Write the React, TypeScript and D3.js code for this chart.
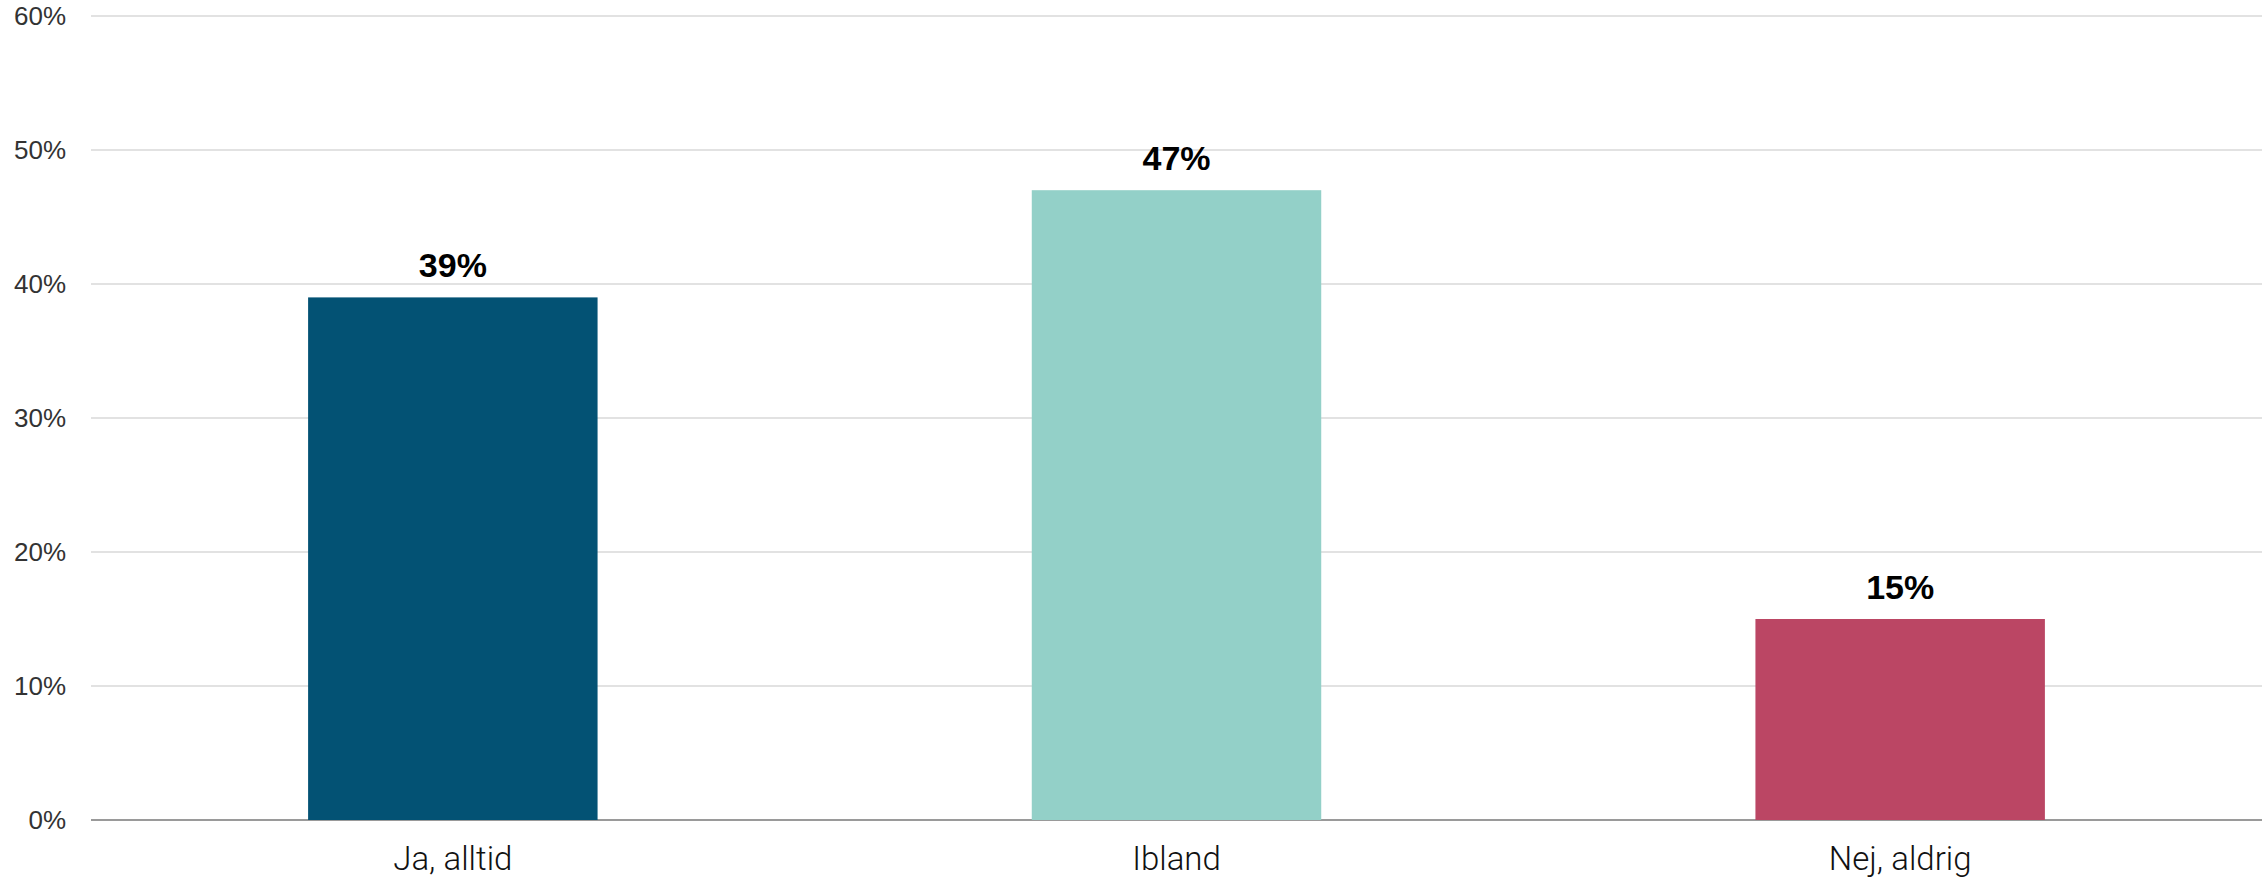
import React from "react";
import * as d3 from "d3";

const categories = ["Ja, alltid", "Ibland", "Nej, aldrig"];
const values = [39, 47, 15];
const colors = ["#035274", "#93D0C8", "#BB4664"];
const yTicks = [0, 10, 20, 30, 40, 50, 60];

const W = 2265;
const H = 878;
const left = 91;
const right = 2262;
const top = 16;
const bottom = 820;

export default function App() {
  const x = d3.scaleBand<string>().domain(categories).range([left, right]).paddingInner(0.6).paddingOuter(0.3);
  const y = d3.scaleLinear().domain([0, 60]).range([bottom, top]);
  return (
    <svg width={W} height={H} style={{ position: "absolute", left: 0, top: 0, display: "block", background: "#fff" }}>
      {yTicks.map((t) => (
        <g key={t}>
          <line x1={left} x2={right} y1={y(t)} y2={y(t)} stroke={t === 0 ? "#9a9a9a" : "#d9d9d9"} strokeWidth={t === 0 ? 2 : 1.5} />
          <text x={66} y={y(t)} dy="0.35em" textAnchor="end" fontFamily="Liberation Sans, Arial, sans-serif" fontSize={26} fill="#333">
            {t}%
          </text>
        </g>
      ))}
      {categories.map((c, i) => (
        <g key={c}>
          <rect x={x(c)} y={y(values[i])} width={x.bandwidth()} height={y(0) - y(values[i])} fill={colors[i]} />
          <text x={(x(c) as number) + x.bandwidth() / 2} y={y(values[i]) - 20} textAnchor="middle" fontFamily="Liberation Sans, Arial, sans-serif" fontWeight="bold" fontSize={34} fill="#000">
            {values[i]}%
          </text>
          <text x={(x(c) as number) + x.bandwidth() / 2} y={870} textAnchor="middle" fontFamily="Roboto, sans-serif" fontWeight={300} fontSize={33} fill="#111">
            {c}
          </text>
        </g>
      ))}
    </svg>
  );
}
